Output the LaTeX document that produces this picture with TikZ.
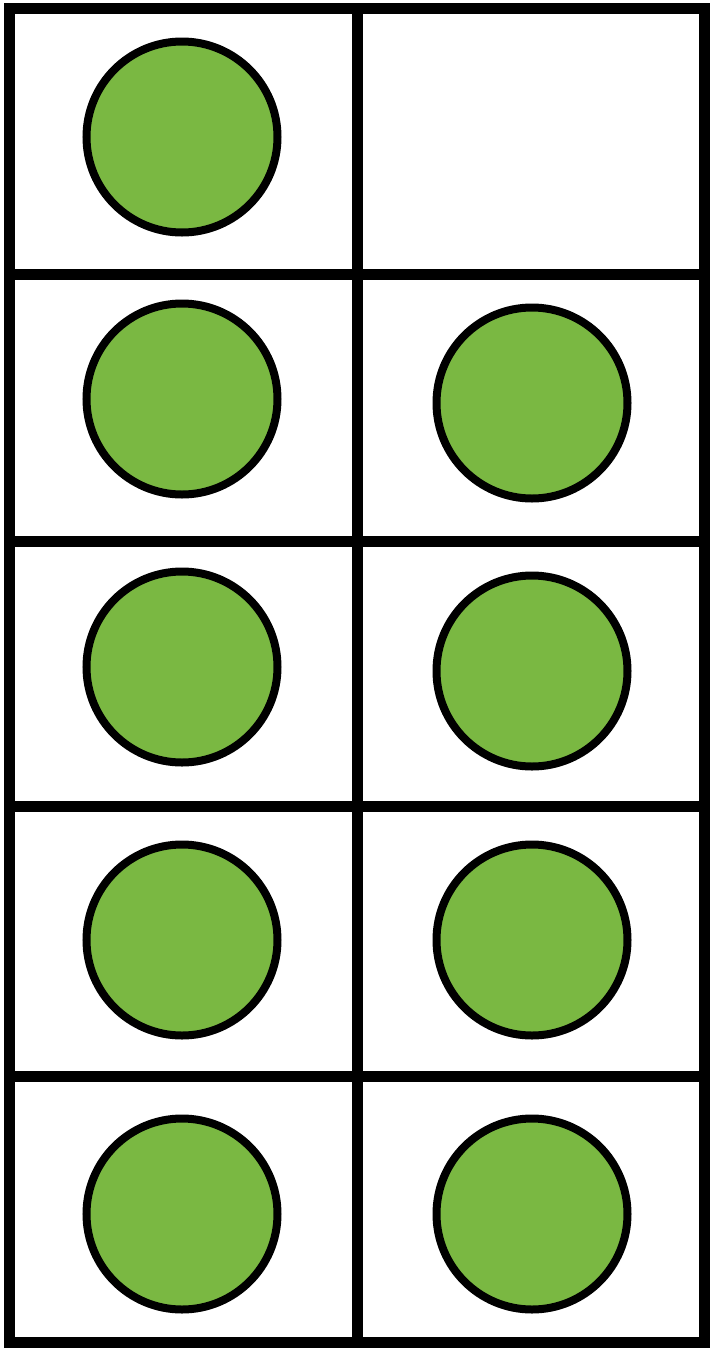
\documentclass[tikz,border=0pt]{standalone}
\definecolor{dotgreen}{RGB}{122,184,66}
\tikzset{
  gridline/.style={line width=11pt, line cap=rect},
  counter/.style={circle, draw=black, line width=8pt, fill=dotgreen, minimum size=191pt, inner sep=0pt}
}
\begin{document}
\begin{tikzpicture}[x=1pt,y=-1pt]
\useasboundingbox (0,0) rectangle (710,1350);
\fill[white] (0,0) rectangle (710,1350);
% counters
\node[counter] (l1) at (182,137) {};
\node[counter] (l2) at (182,399) {};
\node[counter] (l3) at (182,667) {};
\node[counter] (l4) at (182,940) {};
\node[counter] (l5) at (182,1214) {};
\node[counter] (r2) at (532,403) {};
\node[counter] (r3) at (532,671) {};
\node[counter] (r4) at (532,940) {};
\node[counter] (r5) at (532,1214) {};
% grid
\draw[gridline] (9,8) rectangle (704,1342);
\draw[gridline] (357,8) -- (357,1342);
\foreach \y in {274,541,806,1076} \draw[gridline] (9,\y) -- (704,\y);
\end{tikzpicture}
\end{document}
